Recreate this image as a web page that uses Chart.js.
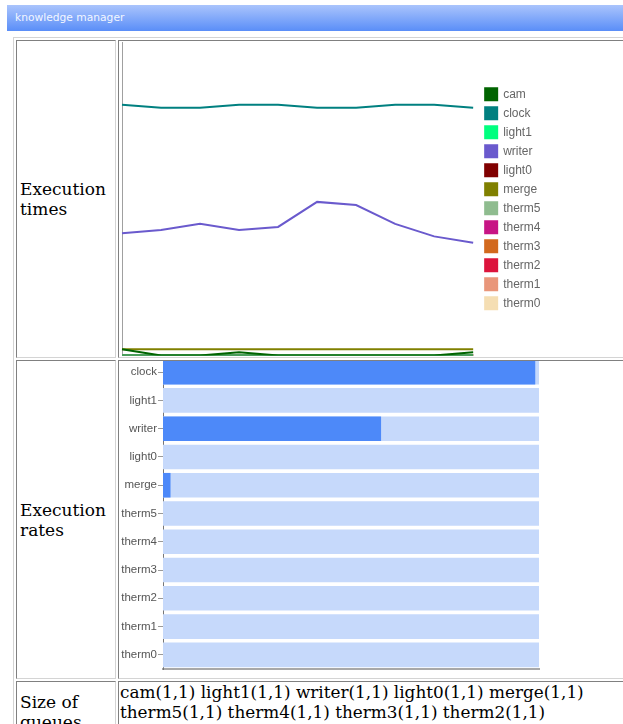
<!DOCTYPE html>
<html>
<head>
<meta charset="utf-8">
<title>knowledge manager</title>
<script src="https://cdn.jsdelivr.net/npm/chart.js@4.4.1/dist/chart.umd.min.js"></script>
<style>
  body { margin: 0; background: #fff; font-family: "DejaVu Serif", serif; font-size: 17px; color: #000; }
  .titlebar {
    position: absolute; left: 7px; top: 5px; width: 640px; height: 26px;
    background: linear-gradient(#aac4fc, #5a8ef8);
    color: #f2f6ff; font: 10.7px "DejaVu Sans", sans-serif; line-height: 25px;
    padding-left: 8px; box-sizing: border-box;
  }
  table.km {
    position: absolute; left: 13px; top: 37px; width: 630px;
    border: 1px solid; border-color: #d4d4d4 #808080 #808080 #d4d4d4;
    border-spacing: 2px;
  }
  table.km td {
    border: 1px solid; border-color: #808080 #d4d4d4 #d4d4d4 #808080;
    padding: 0; vertical-align: middle;
  }
  td.name { width: 95px; min-width: 95px; padding-left: 3px !important; line-height: 20px; }
  td.plot { width: 520px; }
  .box { position: relative; width: 520px; overflow: hidden; }
  td.queues { line-height: 20px; padding: 0 1px !important; white-space: nowrap; font-size: 16.85px; }
</style>
</head>
<body>
<div class="titlebar">knowledge manager</div>
<table class="km">
  <tr>
    <td class="name">Execution times</td>
    <td class="plot"><div class="box" style="height:316px"><canvas id="timesChart" width="520" height="316"></canvas></div></td>
  </tr>
  <tr>
    <td class="name">Execution rates</td>
    <td class="plot"><div class="box" style="height:317px"><canvas id="ratesChart" width="520" height="320" style="display:block;margin-top:-3px"></canvas></div></td>
  </tr>
  <tr>
    <td class="name">Size of queues</td>
    <td class="queues">cam(1,1) light1(1,1) writer(1,1) light0(1,1) merge(1,1)<br>therm5(1,1) therm4(1,1) therm3(1,1) therm2(1,1)<br>therm1(1,1) therm0(1,1)</td>
  </tr>
</table>

<script>
// Execution times, one sample per tick
const samples = ['1', '2', '3', '4', '5', '6', '7', '8', '9', '10'];
const camTimes    = [2, 0, 0, 1, 0, 0, 0, 0, 0, 1];
const clockTimes  = [80, 79, 79, 80, 80, 79, 79, 80, 80, 79];
const light1Times = [0, 0, 0, 0, 0, 0, 0, 0, 0, 0];
const writerTimes = [39, 40, 42, 40, 41, 49, 48, 42, 38, 36];
const light0Times = [0, 0, 0, 0, 0, 0, 0, 0, 0, 0];
const mergeTimes  = [2, 2, 2, 2, 2, 2, 2, 2, 2, 2];
const therm5Times = [0, 0, 0, 0, 0, 0, 0, 0, 0, 0];
const therm4Times = [0, 0, 0, 0, 0, 0, 0, 0, 0, 0];
const therm3Times = [0, 0, 0, 0, 0, 0, 0, 0, 0, 0];
const therm2Times = [0, 0, 0, 0, 0, 0, 0, 0, 0, 0];
const therm1Times = [0, 0, 0, 0, 0, 0, 0, 0, 0, 0];
const therm0Times = [0, 0, 0, 0, 0, 0, 0, 0, 0, 0];
const timesMax = 100;

// Execution rates per component
const rateLabels = ['clock', 'light1', 'writer', 'light0', 'merge', 'therm5', 'therm4', 'therm3', 'therm2', 'therm1', 'therm0'];
const rateValues = [99, 0, 58, 0, 2, 0, 0, 0, 0, 0, 0];
const rateMax = 100;

const seriesNames = ['cam', 'clock', 'light1', 'writer', 'light0', 'merge', 'therm5', 'therm4', 'therm3', 'therm2', 'therm1', 'therm0'];
const seriesTimes = [camTimes, clockTimes, light1Times, writerTimes, light0Times, mergeTimes,
  therm5Times, therm4Times, therm3Times, therm2Times, therm1Times, therm0Times];
const seriesColors = ['#006400', '#008080', '#00ff7f', '#6a5acd', '#800000', '#808000',
  '#8fbc8f', '#c71585', '#d2691e', '#dc143c', '#e9967a', '#f5deb3'];

Chart.defaults.font.family = '"Liberation Sans", Arial, sans-serif';
Chart.defaults.animation = false;

// Times chart
const ctxTimes = document.getElementById('timesChart').getContext('2d');
new Chart(ctxTimes, {
  type: 'line',
  data: {
    labels: samples,
    datasets: seriesNames.map((name, i) => ({
      label: name,
      data: seriesTimes[i],
      borderColor: seriesColors[i],
      backgroundColor: seriesColors[i],
      borderWidth: 2,
      pointRadius: 0,
      tension: 0
    }))
  },
  options: {
    responsive: false,
    layout: { padding: { left: 0, top: 1, bottom: 1.5, right: 89 } },
    plugins: {
      legend: {
        position: 'right',
        align: 'center',
        labels: {
          boxWidth: 12, boxHeight: 12, padding: 7,
          color: '#666', font: { size: 12 }
        }
      },
      tooltip: { enabled: false }
    },
    scales: {
      x: { display: false },
      y: {
        min: 0, max: timesMax,
        ticks: { display: false },
        grid: { display: false },
        border: { display: true, color: '#a0a0a0' },
        afterFit(scale) { scale.width = 3; }
      },
      gap: {
        position: 'right',
        ticks: { display: false },
        grid: { display: false },
        border: { display: false },
        afterFit(scale) { scale.width = 5; }
      }
    }
  }
});

// Rates chart
const ctxRates = document.getElementById('ratesChart').getContext('2d');
new Chart(ctxRates, {
  type: 'bar',
  data: {
    labels: rateLabels,
    datasets: [{
      label: 'rate',
      data: rateValues,
      backgroundColor: '#4d89f9',
      grouped: false,
      order: 0
    }, {
      label: 'capacity',
      data: rateLabels.map(() => rateMax),
      backgroundColor: '#c6d9fb',
      grouped: false,
      order: 1
    }]
  },
  options: {
    responsive: false,
    indexAxis: 'y',
    barPercentage: 0.87,
    categoryPercentage: 1,
    layout: { padding: { left: 0, top: 0, bottom: 7, right: 100 } },
    plugins: {
      legend: { display: false },
      tooltip: { enabled: false }
    },
    scales: {
      x: {
        min: 0, max: rateMax,
        ticks: { display: false },
        grid: { display: false },
        border: { display: true, color: '#a8a8a8', width: 2 },
        afterFit(scale) { scale.height = 2; }
      },
      y: {
        ticks: { color: '#555', font: { size: 11.5 }, padding: 1 },
        grid: { offset: false, drawOnChartArea: false, drawTicks: true, tickLength: 5, color: '#999' },
        border: { display: true, color: '#777' },
        afterFit(scale) {
          scale.width = 44;
          scale.paddingTop = 0;
          scale.paddingBottom = 0;
        }
      }
    }
  }
});
</script>
</body>
</html>
